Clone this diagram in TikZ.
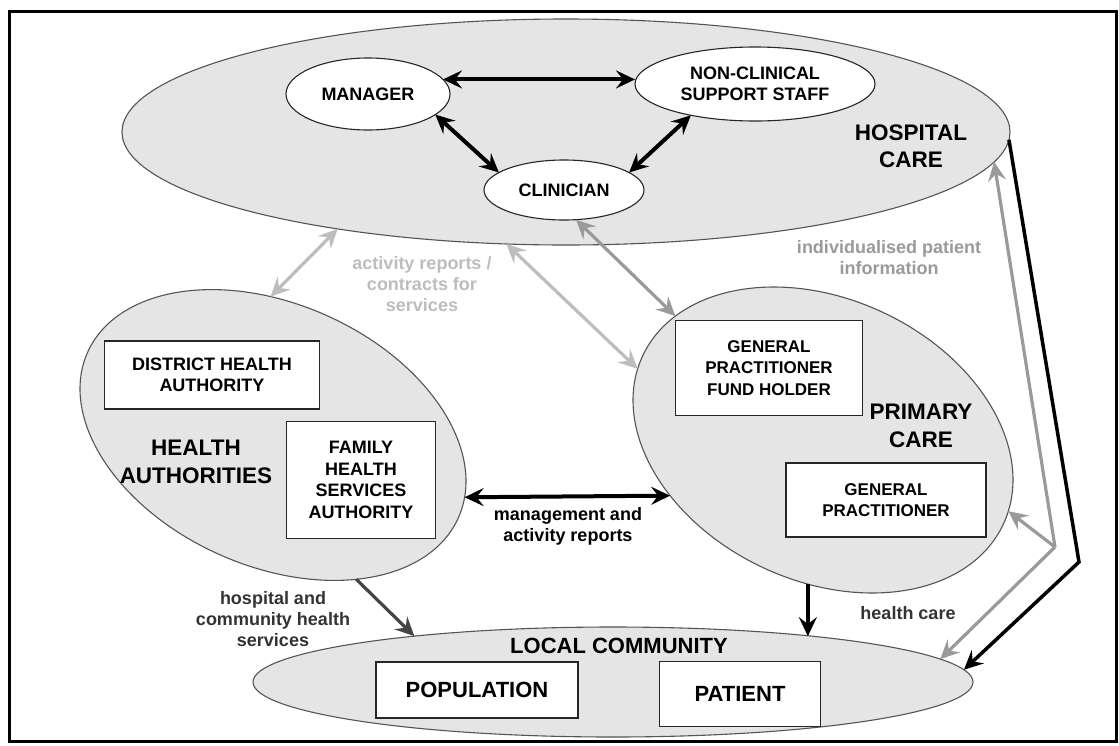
\documentclass[tikz,border=0pt]{standalone}
\usepackage{fontspec}
\setmainfont{Liberation Sans}
\usetikzlibrary{shapes.geometric,arrows.meta}
\definecolor{regionfill}{HTML}{E5E5E5}
\definecolor{edgegray}{HTML}{555555}
\definecolor{lightflow}{HTML}{BDBDBD}
\definecolor{midflow}{HTML}{9A9A9A}
\definecolor{darkflow}{HTML}{444444}
\begin{document}
\begin{tikzpicture}[x=1pt,y=-1pt,
  region/.style={ellipse, draw=edgegray, line width=1.1pt, fill=regionfill,
    inner sep=0pt, outer sep=0pt},
  rolebox/.style={ellipse, draw=black!85, line width=1.1pt, fill=white,
    inner sep=0pt, outer sep=0pt, align=center,
    font=\bfseries\fontsize{18}{21}\selectfont},
  unitbox/.style={rectangle, draw=black!85, line width=1.1pt, fill=white,
    inner sep=0pt, outer sep=0pt, align=center,
    font=\bfseries\fontsize{18}{21.5}\selectfont},
  regiontitle/.style={align=center, font=\bfseries\fontsize{22.5}{27.5}\selectfont},
  flowlabel/.style={align=center, font=\bfseries\fontsize{18}{21}\selectfont},
  strong/.style={line width=4pt, draw=black},
  soft/.style={line width=3.2pt, draw=#1},
  oneway/.style={arrows={-Stealth[length=19pt,width=18pt,inset=7pt]}},
  twoway/.style={arrows={Stealth[length=19pt,width=18pt,inset=7pt]-Stealth[length=19pt,width=18pt,inset=7pt]}},
]
\useasboundingbox (0,0) rectangle (1119,745);
\fill[white] (0,0) rectangle (1119,745);
\draw[line width=3pt] (9,11) rectangle (1116,741);

% organisational regions
\node[region, minimum width=888pt, minimum height=226pt] (hosp) at (566,132) {};
\node[region, minimum width=406pt, minimum height=262pt, rotate=-24] (ha) at (273,435) {};
\node[region, minimum width=398pt, minimum height=282pt, rotate=-25] (pc) at (823,440) {};
\node[region, minimum width=720pt, minimum height=110pt] (local) at (613,682) {};

% hospital roles
\node[rolebox, minimum width=164pt, minimum height=72pt] (manager) at (368,94) {MANAGER};
\node[rolebox, minimum width=240pt, minimum height=74pt] (support) at (755,84) {NON-CLINICAL\\SUPPORT STAFF};
\node[rolebox, minimum width=160pt, minimum height=60pt] (clinician) at (564,190) {CLINICIAN};

% units inside the regions
\node[unitbox, minimum width=215pt, minimum height=68pt] (dha) at (212,375) {DISTRICT HEALTH\\AUTHORITY};
\node[unitbox, minimum width=149pt, minimum height=117pt] (fhsa) at (361,480) {FAMILY\\HEALTH\\SERVICES\\AUTHORITY};
\node[unitbox, minimum width=187pt, minimum height=95pt, font=\bfseries\fontsize{17}{21.3}\selectfont] (gpfh) at (769,368) {GENERAL\\PRACTITIONER\\FUND HOLDER};
\node[unitbox, minimum width=200pt, minimum height=74pt, font=\bfseries\fontsize{17}{21.3}\selectfont] (gp) at (886,500) {GENERAL\\PRACTITIONER};
\node[unitbox, minimum width=202pt, minimum height=56pt, font=\bfseries\fontsize{22}{26}\selectfont] (pop) at (477,690) {POPULATION};
\node[unitbox, minimum width=161pt, minimum height=65pt, font=\bfseries\fontsize{22}{26}\selectfont] (patient) at (740,694) {PATIENT};

% region titles
\node[regiontitle] (hosptitle) at (911,146) {HOSPITAL\\CARE};
\node[regiontitle] (hatitle) at (196,462) {HEALTH\\AUTHORITIES};
\node[regiontitle] (pctitle) at (921,426) {PRIMARY\\CARE};
\node[regiontitle, font=\bfseries\fontsize{22}{26}\selectfont] (localtitle) at (619,646) {LOCAL COMMUNITY};

% flow labels
\node[flowlabel, text=lightflow] (contractlbl) at (422,284) {activity reports /\\contracts for\\services};
\node[flowlabel, text=midflow] (infolbl) at (889,258) {individualised patient\\information};
\node[flowlabel] (mgmtlbl) at (568,526) {management and\\activity reports};
\node[flowlabel, text=black!80] (hchslbl) at (273,619) {hospital and\\community health\\services};
\node[flowlabel, text=black!80] (carelbl) at (908,613) {health care};

% relations inside the hospital
\draw[strong, twoway] (manager.11) -- (manager.11 -| support.west);
\draw[strong, twoway] (manager.-17) -- (clinician.165);
\draw[strong, twoway] (support.206) -- (clinician.15);

% information flows between regions
\draw[soft=lightflow, twoway] (hosp.203) -- (ha.115);
\draw[soft=lightflow, twoway] (hosp.242) -- (pc.184);
\draw[soft=midflow, twoway] (clinician.292) -- (pc.165);
\draw[strong, twoway] (ha.6) -- (pc.225);

% services delivered to the local community
\draw[soft=darkflow, oneway] (ha.-36) -- (local.167);
\draw[strong, oneway] (pc.-71) -- (pc.-71 |- local.13);

% patient information routes on the right
\coordinate (blackturn) at (1079,562);
\coordinate (grayhub) at (1055,547);
\draw[line width=3.5pt, line join=miter, oneway] (hosp.-1) -- (blackturn) -- (local.2);
\draw[soft=midflow, oneway] (grayhub) -- (hosp.-4);
\draw[soft=midflow, oneway] (grayhub) -- (pc.4);
\draw[soft=midflow, oneway] (grayhub) -- (local.4);
\end{tikzpicture}
\end{document}
